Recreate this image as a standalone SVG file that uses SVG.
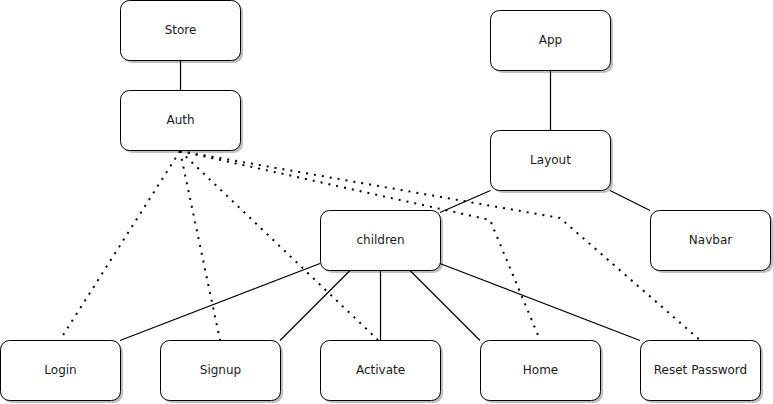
<svg xmlns="http://www.w3.org/2000/svg" width="773" height="404" viewBox="0 0 773 404">
<style>
.box{fill:#fff;stroke:#000;stroke-width:1}
.sh{fill:#000;opacity:0.25}
.lbl{font-family:"DejaVu Sans","Liberation Sans",sans-serif;font-size:12px;fill:#1a1a1a;text-anchor:middle}
.solid{fill:none;stroke:#000;stroke-width:1.2}
.dot{fill:none;stroke:#000;stroke-width:2;stroke-dasharray:2 6}
</style>
<rect width="773" height="404" fill="#fff"/>
<g id="connectors">
<path class="solid" d="M180.5 60.5V90.5"/>
<path class="solid" d="M550.5 70.5V130.5"/>
<path class="solid" d="M490.5 190.5L440 212.5"/>
<path class="solid" d="M610 190.5L650 210.5"/>
<path class="solid" d="M320 263.5L120 340.5"/>
<path class="solid" d="M350 270.5L280 340.5"/>
<path class="solid" d="M380.5 270.5V340.5"/>
<path class="solid" d="M410 270.5L480 340.5"/>
<path class="solid" d="M440 263.5L640 340.5"/>
<path class="dot" d="M180 151L60 340"/>
<path class="dot" d="M180 151L220 340"/>
<path class="dot" d="M180 151L378 340"/>
<path class="dot" d="M180 151L490 220L540 340"/>
<path class="dot" d="M180 151L560 218L700 340"/>
</g>
<g id="store"><rect class="sh" x="123" y="3" width="120" height="60" rx="9"/><rect class="box" x="120.5" y="0.5" width="120" height="60" rx="9"/><text class="lbl" x="180.5" y="34">Store</text></g>
<g id="auth"><rect class="sh" x="123" y="93" width="120" height="60" rx="9"/><rect class="box" x="120.5" y="90.5" width="120" height="60" rx="9"/><text class="lbl" x="180.5" y="124">Auth</text></g>
<g id="app"><rect class="sh" x="493" y="13" width="120" height="60" rx="9"/><rect class="box" x="490.5" y="10.5" width="120" height="60" rx="9"/><text class="lbl" x="550.5" y="44">App</text></g>
<g id="layout"><rect class="sh" x="493" y="133" width="120" height="60" rx="9"/><rect class="box" x="490.5" y="130.5" width="120" height="60" rx="9"/><text class="lbl" x="550.5" y="164">Layout</text></g>
<g id="children"><rect class="sh" x="323" y="213" width="120" height="60" rx="9"/><rect class="box" x="320.5" y="210.5" width="120" height="60" rx="9"/><text class="lbl" x="380.5" y="244">children</text></g>
<g id="navbar"><rect class="sh" x="653" y="213" width="120" height="60" rx="9"/><rect class="box" x="650.5" y="210.5" width="120" height="60" rx="9"/><text class="lbl" x="710.5" y="244">Navbar</text></g>
<g id="login"><rect class="sh" x="3" y="343" width="120" height="60" rx="9"/><rect class="box" x="0.5" y="340.5" width="120" height="60" rx="9"/><text class="lbl" x="60.5" y="374">Login</text></g>
<g id="signup"><rect class="sh" x="163" y="343" width="120" height="60" rx="9"/><rect class="box" x="160.5" y="340.5" width="120" height="60" rx="9"/><text class="lbl" x="220.5" y="374">Signup</text></g>
<g id="activate"><rect class="sh" x="323" y="343" width="120" height="60" rx="9"/><rect class="box" x="320.5" y="340.5" width="120" height="60" rx="9"/><text class="lbl" x="380.5" y="374">Activate</text></g>
<g id="home"><rect class="sh" x="483" y="343" width="120" height="60" rx="9"/><rect class="box" x="480.5" y="340.5" width="120" height="60" rx="9"/><text class="lbl" x="540.5" y="374">Home</text></g>
<g id="reset-password"><rect class="sh" x="643" y="343" width="120" height="60" rx="9"/><rect class="box" x="640.5" y="340.5" width="120" height="60" rx="9"/><text class="lbl" x="700.5" y="374">Reset Password</text></g>
</svg>
